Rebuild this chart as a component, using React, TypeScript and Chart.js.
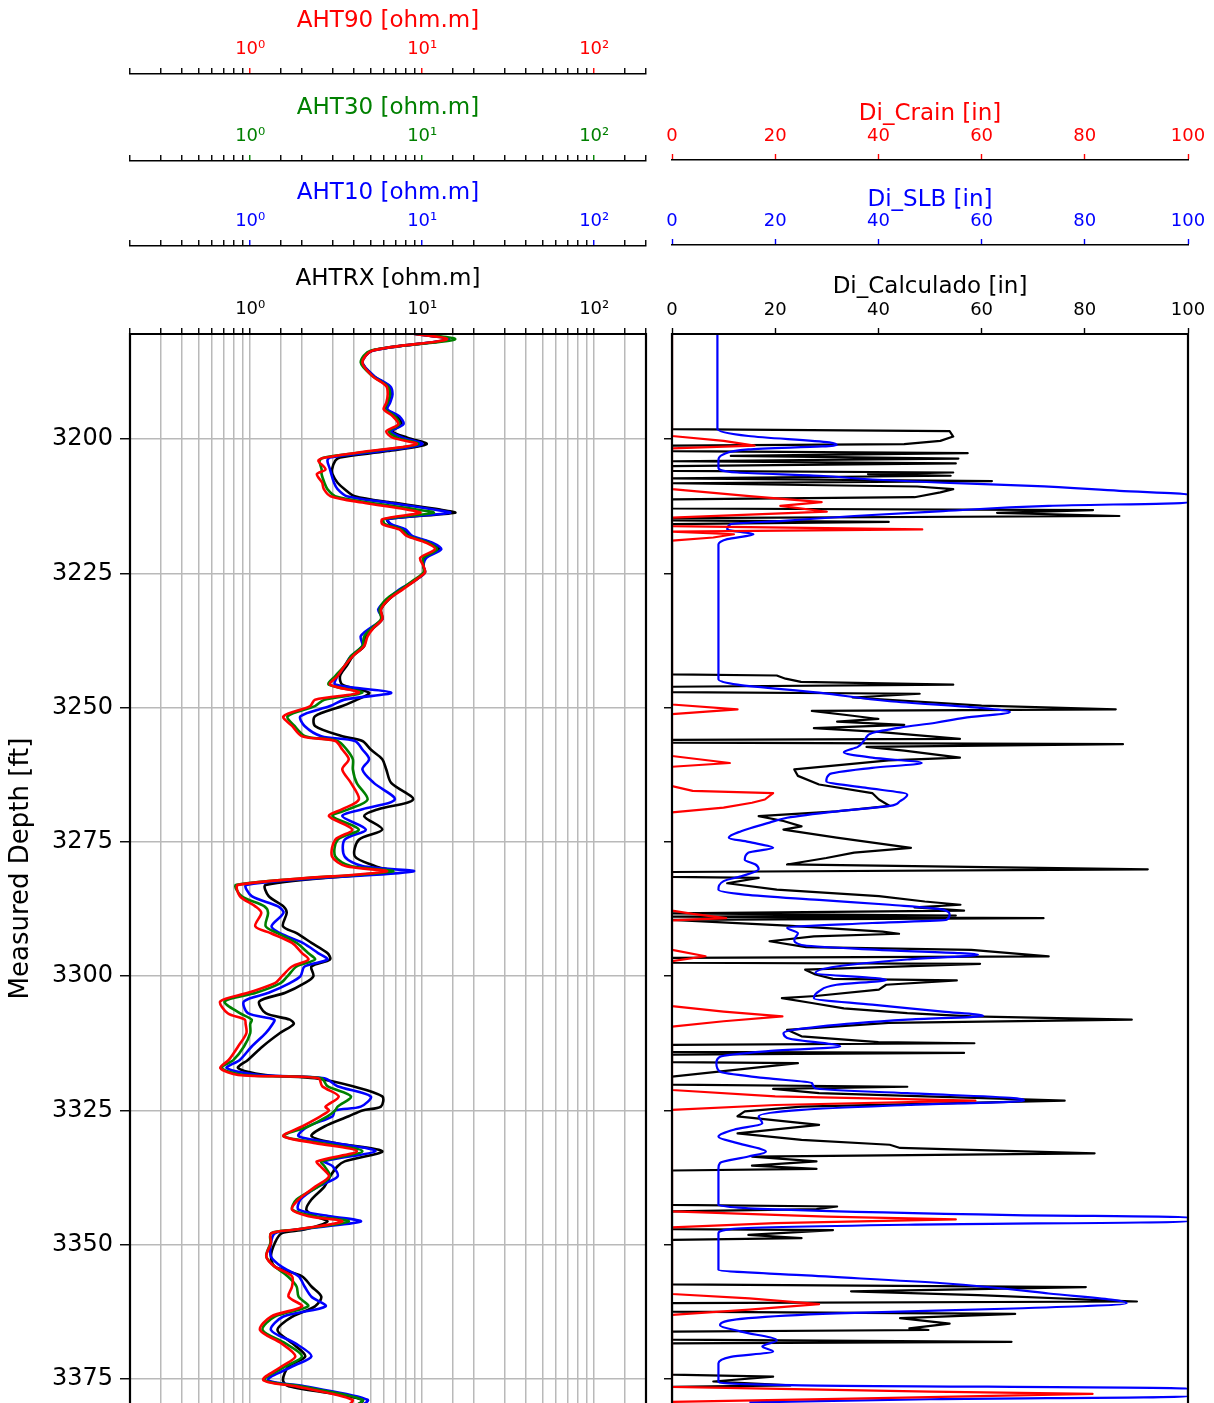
import React, { useEffect, useRef } from 'react';
import { Chart, registerables } from 'chart.js';

Chart.register(...registerables);

// ---------------- Resistivity track (shared depth grid) ----------------
const DEPTH_RES = [
  3180.1, 3181.4, 3183.5, 3185.7, 3188.2, 3190.1, 3191.6, 3193.2, 3194.4, 3195.7,
  3197.2, 3198.5, 3199.7, 3200.9, 3202.2, 3203.4, 3204.0, 3205.6, 3206.5, 3208.1,
  3209.3, 3210.6, 3211.8, 3213.1, 3213.7, 3214.9, 3215.8, 3216.8, 3218.0, 3219.3,
  3220.5, 3222.1, 3223.6, 3224.8, 3226.1, 3228.0, 3229.8, 3231.7, 3233.5, 3235.1,
  3236.7, 3238.5, 3240.4, 3242.2, 3244.1, 3245.7, 3247.2, 3248.5, 3249.7, 3251.6,
  3253.4, 3255.3, 3256.2, 3257.8, 3259.6, 3261.5, 3264.0, 3267.1, 3268.9, 3270.2,
  3272.7, 3274.6, 3277.7, 3279.5, 3280.5, 3283.0, 3285.1, 3287.0, 3288.2, 3290.7,
  3292.0, 3293.8, 3295.7, 3296.9, 3298.2, 3300.0, 3301.3, 3303.1, 3304.7, 3306.9,
  3308.1, 3308.9, 3310.6, 3313.1, 3315.6, 3317.1, 3318.4, 3319.0, 3320.5, 3322.4,
  3324.3, 3325.0, 3326.1, 3328.0, 3329.8, 3331.1, 3332.6, 3334.5, 3335.4, 3337.3,
  3339.2, 3341.6, 3343.5, 3344.7, 3345.7, 3347.2, 3347.9, 3349.7, 3352.2, 3354.1,
  3355.9, 3357.8, 3359.7, 3361.5, 3363.4, 3365.9, 3368.4, 3370.8, 3372.7, 3375.2,
  3376.4, 3378.9, 3380.8,
];

const AHT90 = [
  7.7, 13.9, 5.12, 4.49, 5.12, 6.18, 6.3, 6.18, 5.97, 6.72,
  7.25, 6.18, 6.72, 9.27, 4.91, 2.74, 2.49, 2.74, 2.44, 2.62,
  2.68, 2.93, 4.49, 8.11, 9.73, 5.86, 5.86, 7.35, 8.11, 10.58,
  11.85, 9.73, 10.16, 10.37, 9.27, 7.68, 6.4, 5.76, 5.86, 5.23,
  4.81, 4.6, 3.95, 3.54, 3.22, 2.91, 4.28, 2.38, 2.23, 1.56,
  1.75, 2.0, 3.12, 3.43, 3.74, 3.43, 3.85, 4.28, 3.43, 2.87,
  3.92, 3.12, 2.99, 3.58, 6.18, 0.85, 0.87, 1.07, 1.16, 1.07,
  1.32, 1.75, 2.0, 2.18, 1.75, 1.53, 1.39, 0.97, 0.67, 0.74,
  0.93, 0.94, 0.95, 0.85, 0.75, 0.67, 0.85, 2.49, 2.62, 3.27,
  2.74, 2.87, 2.56, 2.0, 1.56, 2.39, 4.17, 2.44, 2.56, 2.87,
  2.39, 1.91, 1.75, 2.18, 3.43, 1.83, 1.32, 1.32, 1.24, 1.39,
  1.75, 1.75, 1.67, 2.0, 1.32, 1.14, 1.52, 1.83, 1.52, 1.19,
  1.83, 3.92, 3.43,
];

const AHT30 = [
  7.7, 15.5, 5.0, 4.39, 5.12, 6.28, 6.5, 6.28, 6.07, 6.93,
  7.35, 6.4, 7.14, 9.48, 5.12, 2.7, 2.53, 2.6, 2.6, 2.7,
  2.81, 3.12, 4.91, 9.27, 11.64, 5.96, 6.07, 7.57, 8.32, 10.9,
  12.2, 10.16, 10.16, 10.16, 9.06, 7.47, 6.18, 5.65, 5.76, 5.12,
  4.6, 4.49, 3.85, 3.54, 3.12, 2.86, 4.49, 2.7, 2.38, 1.65,
  1.81, 2.09, 3.22, 3.64, 3.95, 3.95, 4.16, 4.81, 3.74, 3.01,
  4.28, 3.22, 3.12, 3.85, 6.72, 0.83, 0.89, 1.21, 1.27, 1.23,
  1.44, 1.86, 2.17, 2.38, 1.86, 1.65, 1.5, 1.08, 0.71, 0.87,
  1.02, 1.0, 1.0, 0.92, 0.8, 0.68, 0.92, 2.59, 2.81, 3.85,
  3.22, 3.12, 2.81, 2.17, 1.56, 2.59, 4.49, 2.59, 2.7, 2.91,
  2.48, 1.86, 1.76, 2.38, 3.74, 1.86, 1.32, 1.31, 1.24, 1.39,
  1.65, 1.86, 1.91, 2.17, 1.39, 1.18, 1.6, 2.0, 1.6, 1.21,
  1.96, 4.49, 3.64,
];

const AHT10 = [
  7.7, 14.3, 5.12, 4.49, 5.23, 6.5, 6.72, 6.5, 6.28, 7.35,
  7.78, 6.6, 7.68, 10.0, 5.86, 2.91, 2.81, 2.91, 2.96, 3.07,
  3.22, 3.64, 6.28, 11.64, 14.5, 6.28, 6.6, 8.0, 8.75, 11.53,
  12.9, 10.58, 10.16, 10.37, 9.27, 7.35, 6.28, 5.55, 5.86, 5.02,
  4.39, 4.49, 3.85, 3.54, 3.22, 3.12, 6.6, 3.54, 2.91, 1.96,
  2.07, 2.59, 4.06, 4.49, 4.91, 4.49, 5.23, 6.93, 4.49, 3.43,
  4.7, 3.54, 3.54, 4.49, 8.85, 0.95, 1.02, 1.45, 1.56, 1.33,
  1.49, 2.02, 2.48, 2.81, 2.07, 1.96, 1.7, 1.28, 0.92, 0.97,
  1.38, 1.35, 1.23, 1.02, 0.87, 0.73, 1.13, 2.7, 3.22, 5.02,
  4.39, 3.12, 3.01, 2.17, 1.91, 3.12, 5.34, 2.7, 3.01, 3.22,
  2.48, 1.96, 1.91, 2.91, 4.39, 1.86, 1.39, 1.32, 1.32, 1.52,
  1.91, 2.07, 2.27, 2.74, 1.56, 1.32, 1.83, 2.27, 1.75, 1.27,
  2.07, 4.81, 3.95,
];

const AHTRX = [
  7.7, 14.1, 5.12, 4.49, 5.23, 6.4, 6.6, 6.4, 6.18, 7.14,
  7.57, 6.72, 8.2, 10.6, 6.28, 3.33, 3.12, 2.99, 3.01, 3.22,
  3.54, 4.06, 6.72, 12.7, 15.5, 6.28, 6.5, 7.78, 8.43, 11.2,
  12.5, 10.37, 10.16, 10.37, 9.27, 7.57, 6.4, 5.76, 5.86, 5.23,
  4.7, 4.6, 3.95, 3.64, 3.33, 3.43, 4.91, 4.18, 3.43, 2.38,
  2.38, 3.43, 4.49, 5.02, 5.86, 6.18, 6.6, 8.85, 5.55, 4.6,
  5.86, 4.28, 4.06, 5.34, 6.6, 1.23, 1.28, 1.56, 1.63, 1.55,
  1.86, 2.27, 2.81, 2.91, 2.27, 2.33, 2.07, 1.6, 1.13, 1.23,
  1.7, 1.79, 1.49, 1.18, 0.97, 0.85, 1.23, 2.38, 3.95, 5.86,
  5.75, 4.49, 3.74, 2.7, 2.27, 3.12, 5.86, 3.54, 3.22, 2.91,
  2.7, 2.27, 2.12, 2.38, 2.81, 2.07, 1.52, 1.39, 1.32, 1.39,
  2.0, 2.27, 2.59, 2.38, 1.76, 1.44, 1.76, 2.09, 1.67, 1.55,
  1.67, 4.49, 3.74,
];

// ---------------- Diameter track ----------------
const DEPTH_CRAIN = [
  3180.0, 3199.4, 3200.3, 3201.2, 3201.7, 3209.3, 3210.6, 3211.7, 3212.4, 3213.5,
  3214.6, 3216.2, 3216.8, 3217.2, 3217.7, 3218.3, 3218.9, 3249.4, 3250.3, 3251.2,
  3259.0, 3260.3, 3261.0, 3264.6, 3265.5, 3265.9, 3267.1, 3267.7, 3268.6, 3269.5,
  3287.8, 3288.4, 3289.2, 3289.6, 3295.1, 3296.3, 3297.2, 3305.6, 3306.6, 3307.5,
  3308.4, 3309.4, 3321.2, 3322.4, 3323.2, 3324.0, 3324.9, 3343.8, 3344.8, 3345.3,
  3346.0, 3346.8, 3359.2, 3360.0, 3361.1, 3362.1, 3363.1, 3376.5, 3377.4, 3377.8,
  3378.6, 3379.3, 3380.0,
];
const DI_CRAIN = [
  0, 0, 10, 16, 0, 0, 15, 29, 21, 30,
  0, 0, 48.5, 0, 12, 8, 0, 0, 12.7, 0,
  0, 11.2, 0, 0, 4, 19.6, 18, 15.5, 10, 0,
  0, 4, 10.5, 0, 0, 6.5, 0, 0, 10, 21.4,
  10, 0, 0, 20, 58.8, 20, 0, 0, 30, 55,
  20, 0, 0, 15, 28.5, 15, 0, 0, 50, 81.5,
  40, 0, 0,
];

const DEPTH_SLB = [
  3180.0, 3198.1, 3199.4, 3200.6, 3201.1, 3201.9, 3202.8, 3204.0, 3205.3, 3206.2,
  3206.8, 3207.5, 3208.1, 3208.7, 3209.6, 3210.3, 3211.8, 3212.4, 3213.4, 3214.3,
  3215.2, 3215.8, 3216.8, 3217.7, 3218.6, 3219.6, 3244.7, 3245.7, 3247.2, 3248.8,
  3250.0, 3250.8, 3251.9, 3252.8, 3253.7, 3254.7, 3255.9, 3257.3, 3258.3, 3259.3,
  3260.3, 3261.2, 3262.4, 3263.7, 3264.9, 3266.2, 3267.4, 3268.3, 3269.3, 3270.5,
  3271.4, 3273.0, 3274.2, 3275.0, 3276.1, 3277.0, 3278.3, 3279.2, 3280.1, 3281.4,
  3282.3, 3283.9, 3284.8, 3285.8, 3286.7, 3287.6, 3288.6, 3289.5, 3290.1, 3291.0,
  3292.0, 3293.2, 3294.2, 3295.1, 3296.0, 3296.9, 3298.2, 3299.4, 3300.7, 3301.6,
  3302.8, 3304.1, 3305.3, 3306.6, 3307.4, 3308.1, 3309.4, 3310.6, 3311.5, 3313.1,
  3314.0, 3315.0, 3316.2, 3317.8, 3319.0, 3319.9, 3320.9, 3321.8, 3322.7, 3323.2,
  3324.0, 3324.9, 3326.1, 3327.4, 3328.6, 3329.9, 3331.1, 3332.7, 3333.6, 3334.8,
  3335.8, 3342.6, 3343.5, 3344.5, 3344.9, 3345.7, 3346.3, 3347.1, 3347.9, 3354.7,
  3355.7, 3357.2, 3359.1, 3360.9, 3361.9, 3362.8, 3363.7, 3365.0, 3366.2, 3367.8,
  3369.0, 3369.9, 3370.9, 3372.1, 3375.5, 3376.2, 3376.8, 3378.3, 3378.8, 3379.4,
];
const DI_SLB = [
  8.8, 8.8, 14.8, 30.5, 31.9, 14.8, 10.0, 9.0, 9.0, 12.7,
  28.5, 38.8, 52.5, 69.6, 86.7, 100, 100, 73.0, 52.5, 35.3,
  21.6, 11.4, 10.7, 15.8, 10.7, 9.0, 9.0, 12.7, 28.5, 42.2,
  59.3, 65.5, 56.6, 51.1, 44.2, 38.8, 37.4, 36.0, 33.3, 38.8,
  48.4, 38.8, 30.5, 29.9, 37.4, 45.6, 44.2, 42.2, 31.9, 22.3,
  18.9, 13.4, 11.0, 14.8, 19.6, 14.8, 14.1, 16.2, 16.8, 13.4,
  10.0, 9.0, 14.1, 28.5, 42.2, 52.5, 53.8, 53.2, 38.8, 22.3,
  24.4, 23.7, 25.1, 40.1, 59.3, 45.6, 31.9, 27.8, 41.5, 31.9,
  28.5, 27.5, 38.8, 52.5, 60.3, 45.6, 28.5, 21.6, 22.3, 32.6,
  18.2, 9.3, 8.6, 9.3, 18.2, 27.1, 27.8, 45.6, 66.2, 68.2,
  45.6, 25.1, 16.8, 17.5, 12.0, 9.0, 12.7, 18.2, 14.8, 9.3,
  9.0, 9.0, 21.6, 66.2, 100, 100, 45.6, 11.4, 9.0, 9.0,
  25.1, 52.5, 73.0, 88.1, 66.2, 31.9, 14.8, 9.3, 13.4, 20.3,
  17.5, 19.6, 11.4, 9.0, 9.0, 25.1, 100, 100, 50, 15,
];

const DEPTH_CALC = [
  3180.0, 3198.1, 3198.5, 3199.5, 3200.3, 3200.9, 3201.2, 3202.2, 3202.6, 3203.1,
  3203.6, 3204.1, 3204.5, 3205.0, 3205.9, 3206.2, 3206.5, 3206.8, 3207.3, 3207.8,
  3208.2, 3208.8, 3209.3, 3209.9, 3210.8, 3211.2, 3212.9, 3213.2, 3213.7, 3214.3,
  3214.7, 3215.1, 3215.4, 3215.8, 3243.8, 3244.0, 3244.6, 3245.2, 3245.7, 3246.1,
  3247.1, 3247.4, 3248.1, 3249.6, 3250.3, 3250.6, 3251.5, 3252.1, 3252.6, 3253.2,
  3253.8, 3254.5, 3255.8, 3256.0, 3256.5, 3256.8, 3257.3, 3258.0, 3259.3, 3259.8,
  3261.5, 3262.7, 3264.3, 3265.9, 3267.1, 3268.3, 3269.3, 3270.2, 3271.1, 3272.1,
  3272.7, 3274.2, 3276.1, 3277.0, 3278.0, 3279.2, 3280.1, 3280.6, 3281.5, 3281.7,
  3282.7, 3283.9, 3285.1, 3286.1, 3286.7, 3287.2, 3287.8, 3288.3, 3288.7, 3288.9,
  3289.2, 3289.5, 3290.6, 3291.7, 3292.1, 3292.6, 3293.5, 3294.6, 3295.1, 3296.3,
  3296.6, 3297.5, 3297.7, 3298.8, 3299.7, 3300.5, 3300.8, 3301.6, 3302.5, 3303.7,
  3304.1, 3305.0, 3306.0, 3306.9, 3307.5, 3308.1, 3308.7, 3310.0, 3311.2, 3312.3,
  3312.5, 3312.8, 3314.1, 3314.3, 3314.6, 3316.0, 3316.2, 3318.7, 3320.2, 3320.6,
  3321.0, 3321.8, 3323.2, 3324.3, 3325.2, 3326.1, 3327.7, 3329.3, 3330.5, 3331.4,
  3332.0, 3333.0, 3333.6, 3334.5, 3335.3, 3335.9, 3336.2, 3342.6, 3342.9, 3343.4,
  3343.8, 3347.1, 3347.3, 3348.2, 3348.8, 3349.1, 3357.4, 3357.9, 3358.7, 3359.4,
  3360.6, 3360.9, 3362.5, 3362.9, 3363.7, 3364.7, 3365.6, 3365.9, 3366.2, 3367.7,
  3368.1, 3368.4, 3374.2, 3374.6, 3375.5, 3376.2, 3376.5, 3380.0,
];
const DI_CALC = [
  0, 0, 53.8, 54.5, 52.0, 45.0, 0, 0, 57.3, 11.4,
  55.5, 0, 55.0, 0, 0, 54.5, 38.0, 54.0, 0, 62.0,
  0, 47.5, 54.5, 52.0, 47.0, 0, 0, 81.6, 63.0, 86.7,
  0, 0, 42.0, 0, 0, 20.3, 22.0, 25.0, 54.5, 0,
  0, 48.0, 35.0, 60.0, 86.0, 27.1, 35.0, 40.0, 32.0, 45.0,
  27.5, 40.0, 55.8, 0, 0, 87.4, 37.7, 45.0, 55.8, 42.0,
  23.7, 24.4, 28.5, 38.8, 40.1, 42.2, 31.9, 16.8, 21.6, 25.1,
  21.6, 31.9, 46.3, 35.3, 29.9, 22.3, 92.2, 0, 0, 16.8,
  10.7, 20.3, 40.1, 49.0, 55.9, 47.0, 56.6, 0, 55.0, 0,
  72.0, 0, 22.3, 40.8, 44.0, 27.5, 18.9, 26.0, 58.0, 73.0,
  0, 0, 59.7, 25.8, 27.8, 31.2, 55.2, 41.5, 40.1, 27.8,
  21.3, 27.1, 33.3, 45.6, 58.0, 89.1, 42.0, 22.3, 25.1, 40.0,
  58.6, 0, 0, 56.6, 0, 0, 24.4, 0, 0, 45.6,
  19.6, 28.5, 76.1, 25.1, 14.1, 12.7, 28.5, 12.7, 25.1, 42.2,
  44.2, 81.9, 15.5, 28.0, 15.5, 28.0, 0, 0, 32.0, 28.0,
  0, 0, 31.2, 14.8, 25.1, 0, 0, 80.2, 34.7, 59.3,
  90.1, 0, 0, 66.5, 44.2, 53.8, 46.0, 49.7, 0, 0,
  65.8, 0, 0, 19.6, 8.0, 23.0, 0, 0,
];

// ---------------- Axes ----------------
const DEPTH_TICKS = [3200, 3225, 3250, 3275, 3300, 3325, 3350, 3375];
const DEPTH_MIN = 3180.4;
const DEPTH_MAX = 3379.5;
const RES_MIN = 0.2;
const RES_MAX = 200;
const DI_TICKS = [0, 20, 40, 60, 80, 100];

const FONT = "'DejaVu Sans', sans-serif";
const RED = '#ff0000';
const GREEN = '#008000';
const BLUE = '#0000ff';
const BLACK = '#000000';
const GRID = '#b9b9b9';

const SUP = ['⁰', '¹', '²', '³', '⁴', '⁵', '⁶', '⁷', '⁸', '⁹'];

function isDecade(v: any) {
  if (typeof v !== 'number' || v <= 0) return false;
  const e = Math.log10(v);
  return Math.abs(e - Math.round(e)) < 1e-6;
}

function decadeLabel(v: any) {
  if (!isDecade(v)) return '';
  const r = Math.round(Math.log10(v));
  const s = String(Math.abs(r)).split('').map((d) => SUP[+d]).join('');
  return '10' + (r < 0 ? '⁻' : '') + s;
}

function pts(depths: number[], vals: number[]) {
  return depths.map((d, i) => ({ x: vals[i], y: d }));
}

const framePlugin = {
  id: 'frame',
  afterDatasetsDraw(chart: any) {
    const { ctx, chartArea: a } = chart;
    ctx.save();
    ctx.strokeStyle = BLACK;
    ctx.lineWidth = 2.2;
    ctx.beginPath();
    ctx.moveTo(a.left, a.bottom + 2);
    ctx.lineTo(a.left, a.top);
    ctx.lineTo(a.right, a.top);
    ctx.lineTo(a.right, a.bottom + 2);
    ctx.stroke();
    ctx.restore();
  },
};

function logAxis(color: string, title: string, weight: number, height: number, titlePad: number, onArea: boolean) {
  return {
    type: 'logarithmic',
    position: 'top',
    min: RES_MIN,
    max: RES_MAX,
    weight,
    afterFit: (s: any) => {
      s.height = height;
      s.paddingLeft = 0;
      s.paddingRight = 0;
    },
    grid: {
      display: true,
      drawOnChartArea: onArea,
      color: GRID,
      lineWidth: 1.5,
      drawTicks: true,
      tickLength: 6,
      tickWidth: 1.4,
      tickColor: (c: any) => (c.tick && isDecade(c.tick.value) ? color : BLACK),
    },
    border: { display: true, color: BLACK, width: 1.6 },
    ticks: {
      autoSkip: false,
      maxRotation: 0,
      minRotation: 0,
      padding: 8,
      color,
      font: { family: FONT, size: 18 },
      callback: (v: any) => decadeLabel(v),
    },
    title: {
      display: true,
      text: title,
      color,
      font: { family: FONT, size: 23 },
      padding: { top: titlePad, bottom: 0 },
    },
  };
}

function linAxis(color: string, title: string, weight: number, height: number, titlePad: number) {
  return {
    type: 'linear',
    position: 'top',
    min: 0,
    max: 100,
    weight,
    afterBuildTicks: (s: any) => {
      s.ticks = DI_TICKS.map((v) => ({ value: v }));
    },
    afterFit: (s: any) => {
      s.height = height;
      s.paddingLeft = 0;
      s.paddingRight = 0;
    },
    grid: {
      display: true,
      drawOnChartArea: false,
      drawTicks: true,
      tickLength: 6,
      tickWidth: 1.4,
      tickColor: color,
    },
    border: { display: true, color: BLACK, width: 1.6 },
    ticks: {
      autoSkip: false,
      maxRotation: 0,
      minRotation: 0,
      padding: 7,
      color,
      font: { family: FONT, size: 18 },
      callback: (v: any) => String(v),
    },
    title: {
      display: true,
      text: title,
      color,
      font: { family: FONT, size: 23 },
      padding: { top: titlePad, bottom: 0 },
    },
  };
}

function depthAxis(withLabels: boolean, width: number) {
  return {
    type: 'linear',
    position: 'left',
    reverse: true,
    min: DEPTH_MIN,
    max: DEPTH_MAX,
    afterBuildTicks: (s: any) => {
      s.ticks = DEPTH_TICKS.map((v) => ({ value: v }));
    },
    afterFit: (s: any) => {
      s.width = width;
      s.paddingTop = 0;
      s.paddingBottom = 0;
    },
    grid: {
      display: true,
      drawOnChartArea: withLabels,
      color: GRID,
      lineWidth: 1.5,
      drawTicks: true,
      tickLength: withLabels ? 10 : 8,
      tickWidth: 1.4,
      tickColor: BLACK,
    },
    border: { display: true, color: BLACK, width: 1.6 },
    ticks: {
      autoSkip: false,
      padding: 7,
      color: BLACK,
      font: { family: FONT, size: 24 },
      callback: (v: any) => (withLabels ? String(v) : ''),
    },
    title: {
      display: withLabels,
      text: 'Measured Depth [ft]',
      color: BLACK,
      font: { family: FONT, size: 26 },
      padding: { top: 6, bottom: 0 },
    },
  };
}

function lineSet(label: string, data: any[], color: string, xAxisID: string, width: number, tension: number, mode?: string) {
  return {
    label,
    data,
    showLine: true,
    borderColor: color,
    backgroundColor: color,
    borderWidth: width,
    pointRadius: 0,
    pointHoverRadius: 0,
    tension,
    cubicInterpolationMode: mode || 'default',
    fill: false,
    xAxisID,
    yAxisID: 'y',
    borderJoinStyle: 'round',
  };
}

export default function App() {
  const leftRef = useRef<HTMLCanvasElement>(null);
  const rightRef = useRef<HTMLCanvasElement>(null);

  useEffect(() => {
    const common = {
      animation: false,
      responsive: false,
      maintainAspectRatio: false,
      devicePixelRatio: 1,
      events: [],
      plugins: { legend: { display: false }, tooltip: { enabled: false }, title: { display: false } },
    };

    const left = new Chart(leftRef.current as HTMLCanvasElement, {
      type: 'scatter',
      data: {
        datasets: [
          lineSet('AHT90', pts(DEPTH_RES, AHT90), RED, 'x90', 2.6, 0.3),
          lineSet('AHT30', pts(DEPTH_RES, AHT30), GREEN, 'x30', 2.6, 0.3),
          lineSet('AHT10', pts(DEPTH_RES, AHT10), BLUE, 'x10', 2.6, 0.3),
          lineSet('AHTRX', pts(DEPTH_RES, AHTRX), BLACK, 'xRX', 2.6, 0.3),
        ],
      },
      options: {
        ...common,
        layout: { padding: { left: 0, right: 14, top: 0, bottom: 0 } },
        scales: {
          y: depthAxis(true, 130),
          xRX: logAxis(BLACK, 'AHTRX [ohm.m]', 1, 88, 19, true),
          x10: logAxis(BLUE, 'AHT10 [ohm.m]', 2, 85, 18, false),
          x30: logAxis(GREEN, 'AHT30 [ohm.m]', 3, 87, 20, false),
          x90: logAxis(RED, 'AHT90 [ohm.m]', 4, 74, 7, false),
        },
      } as any,
      plugins: [framePlugin],
    } as any);

    const right = new Chart(rightRef.current as HTMLCanvasElement, {
      type: 'scatter',
      data: {
        datasets: [
          lineSet('Di_Crain', pts(DEPTH_CRAIN, DI_CRAIN), RED, 'xCrain', 2.2, 0),
          lineSet('Di_SLB', pts(DEPTH_SLB, DI_SLB), BLUE, 'xSLB', 2.2, 0.4, 'monotone'),
          lineSet('Di_Calculado', pts(DEPTH_CALC, DI_CALC), BLACK, 'xCalc', 2.2, 0),
        ],
      },
      options: {
        ...common,
        indexAxis: 'y',
        layout: { padding: { left: 0, right: 26, top: 0, bottom: 0 } },
        scales: {
          y: depthAxis(false, 12),
          xCalc: linAxis(BLACK, 'Di_Calculado [in]', 1, 89, 28),
          xSLB: linAxis(BLUE, 'Di_SLB [in]', 2, 85, 26),
          xCrain: linAxis(RED, 'Di_Crain [in]', 3, 160, 100),
        },
      } as any,
      plugins: [framePlugin],
    } as any);

    return () => {
      left.destroy();
      right.destroy();
    };
  }, []);

  return (
    <div
      style={{
        position: 'absolute',
        left: 0,
        top: 0,
        width: 1214,
        height: 1403,
        background: '#ffffff',
        overflow: 'hidden',
      }}
    >
      <canvas
        ref={leftRef}
        width={660}
        height={1403}
        style={{ position: 'absolute', left: 0, top: 0, width: 660, height: 1403 }}
      />
      <canvas
        ref={rightRef}
        width={554}
        height={1403}
        style={{ position: 'absolute', left: 660, top: 0, width: 554, height: 1403 }}
      />
    </div>
  );
}
